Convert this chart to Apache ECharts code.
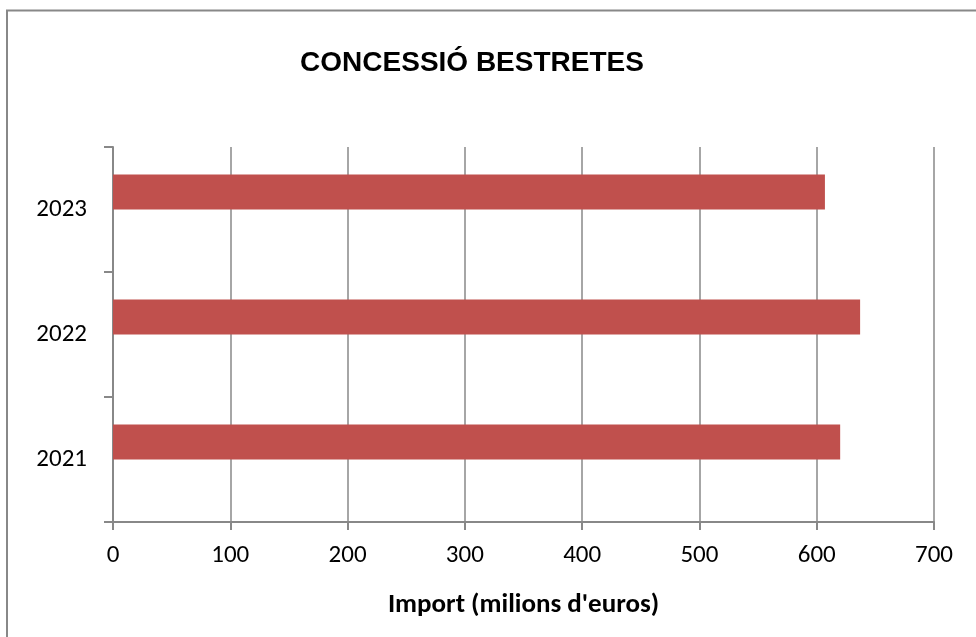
<!DOCTYPE html>
<html>
<head>
<meta charset="utf-8">
<script src="https://cdn.jsdelivr.net/npm/echarts@6/dist/echarts.min.js"></script>
<style>
  html, body { margin: 0; padding: 0; background: #fff; }
  #chart { width: 976px; height: 637px; }
</style>
</head>
<body>
<div id="chart"></div>
<script>
// years on the category axis (bottom to top)
const years = ['2021', '2022', '2023']
// advances granted, millions of euros
const amounts = [620, 637, 607]
const xTicks = [0, 100, 200, 300, 400, 500, 600, 700]

const BAR_COLOR = '#C0504D'
const GRID_COLOR = '#A6A6A6'
const AXIS_COLOR = '#888888'
const LABEL_FONT = 'Carlito, Lato, sans-serif'

const chart = echarts.init(document.getElementById('chart'))

chart.setOption({
  animation: false,
  backgroundColor: '#fff',
  title: {
    text: 'CONCESSIÓ BESTRETES',
    left: 467,
    top: 44,
    textAlign: 'center',
    textStyle: {
      fontFamily: 'Liberation Sans, Arial, sans-serif',
      fontSize: 28,
      fontWeight: 'bold',
      color: '#000'
    }
  },
  graphic: [
    {
      type: 'rect',
      shape: { x: 7, y: 10.5, width: 1200, height: 900 },
      style: { fill: 'none', stroke: AXIS_COLOR, lineWidth: 2 },
      silent: true
    }
  ],
  grid: { left: 113, right: 42, top: 147, bottom: 115 },
  xAxis: {
    type: 'value',
    min: xTicks[0],
    max: xTicks[xTicks.length - 1],
    interval: 100,
    name: "Import (milions d'euros)",
    nameLocation: 'middle',
    nameGap: 70,
    nameTextStyle: { fontFamily: LABEL_FONT, fontSize: 27, fontWeight: 'bold', color: '#000' },
    axisLine: { show: true, lineStyle: { color: AXIS_COLOR, width: 2 } },
    axisTick: { show: true, length: 8, lineStyle: { color: AXIS_COLOR, width: 2 } },
    axisLabel: { fontFamily: LABEL_FONT, fontSize: 25, color: '#000', margin: 21 },
    splitLine: { show: true, lineStyle: { color: GRID_COLOR, width: 2 } }
  },
  yAxis: {
    type: 'category',
    data: years,
    axisLine: { show: true, lineStyle: { color: AXIS_COLOR, width: 2 } },
    axisTick: { show: true, length: 9, lineStyle: { color: AXIS_COLOR, width: 2 } },
    axisLabel: { fontFamily: LABEL_FONT, fontSize: 25, color: '#000', margin: 26 }
  },
  series: [
    {
      type: 'bar',
      data: amounts,
      barWidth: 35,
      barGap: '0%',
      itemStyle: { color: BAR_COLOR }
    },
    {
      type: 'bar',
      data: years.map(() => null),
      barWidth: 35,
      barGap: '0%'
    }
  ]
})
</script>
</body>
</html>
